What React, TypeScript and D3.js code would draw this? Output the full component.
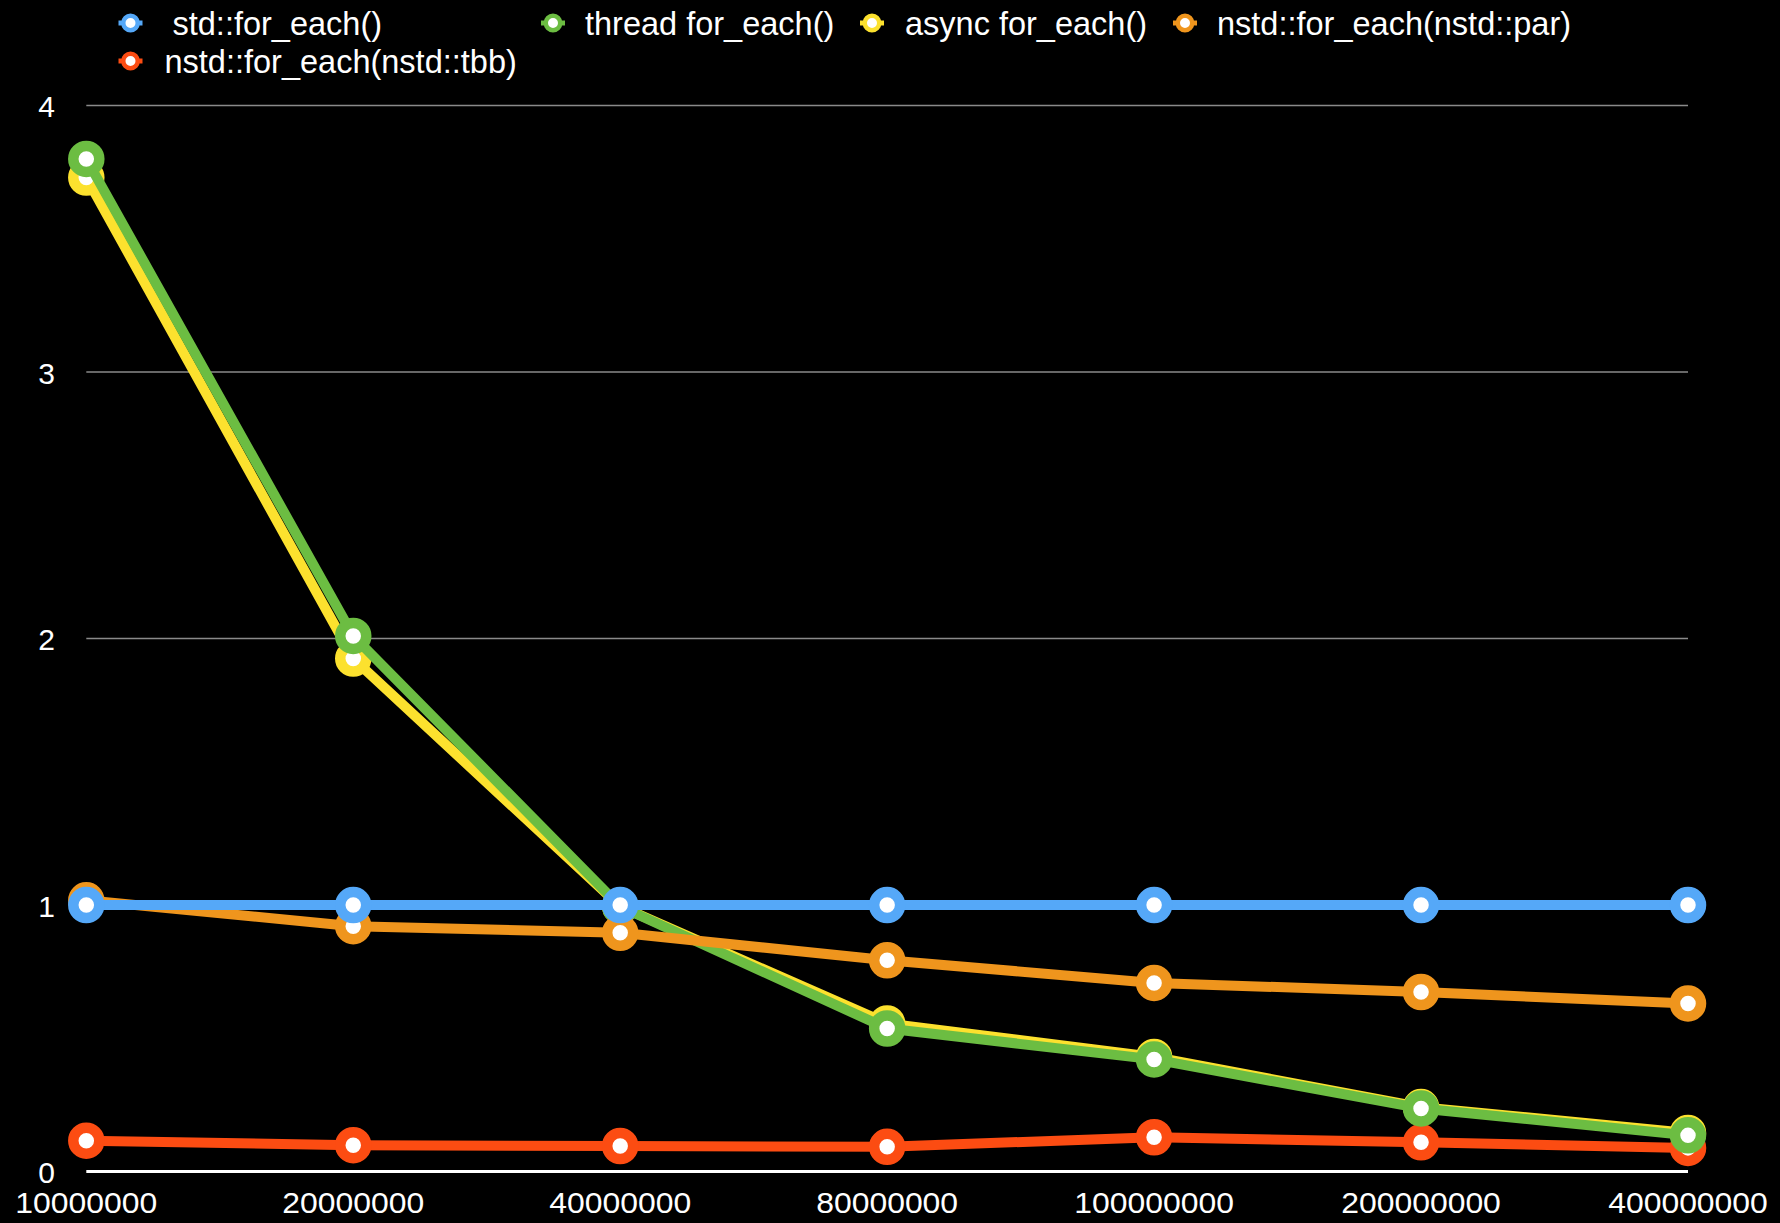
import * as d3 from "d3";

const categories = ["10000000", "20000000", "40000000", "80000000", "100000000", "200000000", "400000000"];
const yTicks = [0, 1, 2, 3, 4];

const stdValues = [1, 1, 1, 1, 1, 1, 1];
const threadValues = [3.8, 2.01, 0.995, 0.537, 0.421, 0.237, 0.136];
const asyncValues = [3.73, 1.925, 0.995, 0.556, 0.43, 0.242, 0.145];
const parValues = [1.018, 0.921, 0.896, 0.793, 0.708, 0.674, 0.631];
const tbbValues = [0.116, 0.099, 0.096, 0.093, 0.129, 0.11, 0.089];

const seriesNames = [
  "std::for_each()",
  "thread for_each()",
  "async for_each()",
  "nstd::for_each(nstd::par)",
  "nstd::for_each(nstd::tbb)",
];
const seriesColors = ["#55a8f8", "#6cbd42", "#fce12e", "#ef951d", "#fc4c12"];
const seriesValues = [stdValues, threadValues, asyncValues, parValues, tbbValues];

/** draw order, bottom to top */
const drawOrder = [4, 2, 1, 3, 0];

/** svg dimensions */
const width = 1780;
const height = 1223;
const left = 86.3;
const right = 1688;
const top = 105.6;
const bottom = 1171.6;
const font = "'Liberation Sans', Arial, Helvetica, sans-serif";

/** legend layout: marker x, text x, row y */
const legendPos = [
  { mx: 130.5, tx: 172.5, y: 23 },
  { mx: 553, tx: 585, y: 23 },
  { mx: 872, tx: 905, y: 23 },
  { mx: 1185, tx: 1217, y: 23 },
  { mx: 130.5, tx: 164.5, y: 61 },
];

type LabelProps = { x: number; y: number; anchor: string; size: number; stretch?: number; children: any };

const Label = ({ x, y, anchor, size, stretch = 1, children }: LabelProps) => (
  <g transform={`translate(${x},${y}) scale(${stretch},1)`}>
    <text x={0} y={0} dy="0.355em" textAnchor={anchor} fill="#fff" style={{ fontSize: `${size}px`, fontFamily: font }}>
      {children}
    </text>
  </g>
);

const App = () => {
  const xScale = d3.scalePoint<string>().domain(categories).range([left, right]);
  const yScale = d3.scaleLinear().domain([0, 4]).range([bottom, top]);

  const line = d3
    .line<number>()
    .x((_, i) => xScale(categories[i]) ?? 0)
    .y((d) => yScale(d));

  return (
    <div style={{ position: "absolute", left: 0, top: 0, background: "#000" }}>
      <svg width={width} height={height} viewBox={[0, 0, width, height].join(" ")} style={{ display: "block" }}>
        <rect x={0} y={0} width={width} height={height} fill="#000" />
        {/* gridlines */}
        {yTicks
          .filter((t) => t > 0)
          .map((t) => (
            <line key={t} x1={left} x2={right} y1={yScale(t)} y2={yScale(t)} stroke="#8a8a8a" strokeWidth={1.5} />
          ))}
        {/* y labels */}
        {yTicks.map((t) => (
          <Label key={t} x={46.7} y={yScale(t) + 1} anchor="middle" size={30}>
            {t}
          </Label>
        ))}
        {/* x labels */}
        {categories.map((c) => (
          <Label key={c} x={xScale(c) ?? 0} y={1203} anchor="middle" size={29} stretch={1.1}>
            {c}
          </Label>
        ))}
        {/* series */}
        {drawOrder.map((s) => (
          <g key={s}>
            <path
              d={line(seriesValues[s]) ?? ""}
              fill="none"
              stroke={seriesColors[s]}
              strokeWidth={10}
              strokeLinejoin="round"
            />
            {seriesValues[s].map((v, i) => (
              <circle
                key={i}
                cx={xScale(categories[i])}
                cy={yScale(v)}
                r={13}
                fill="#fff"
                stroke={seriesColors[s]}
                strokeWidth={10.5}
              />
            ))}
          </g>
        ))}
        {/* baseline */}
        <line x1={left} x2={right} y1={bottom} y2={bottom} stroke="#fff" strokeWidth={3} />
        {/* legend */}
        {seriesNames.map((name, i) => (
          <g key={name}>
            <line
              x1={legendPos[i].mx - 12}
              x2={legendPos[i].mx + 12}
              y1={legendPos[i].y}
              y2={legendPos[i].y}
              stroke={seriesColors[i]}
              strokeWidth={5}
            />
            <circle cx={legendPos[i].mx} cy={legendPos[i].y} r={7.2} fill="#fff" stroke={seriesColors[i]} strokeWidth={4.4} />
            <Label x={legendPos[i].tx} y={legendPos[i].y} anchor="start" size={32.5}>
              {name}
            </Label>
          </g>
        ))}
      </svg>
    </div>
  );
};

export default App;
